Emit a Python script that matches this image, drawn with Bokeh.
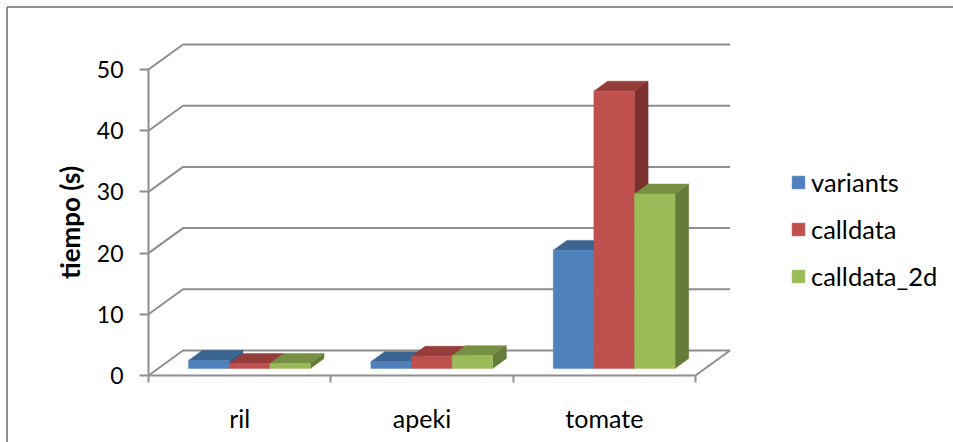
from bokeh.embed import file_html
from bokeh.models import FixedTicker, Legend, LegendItem, LinearAxis, Range1d
from bokeh.plotting import figure
from bokeh.resources import INLINE

# Values
categories = ["ril", "apeki", "tomate"]
series_names = ["variants", "calldata", "calldata_2d"]
variants = [1.3, 1.1, 19.3]
calldata = [0.8, 2.0, 45.3]
calldata_2d = [0.8, 2.1, 28.5]
y_ticks = [0, 10, 20, 30, 40, 50]

# Colours: front face, top face, side face
front_colors = ["#4F81BD", "#C0504D", "#9BBB59"]
top_colors = ["#3B6491", "#943D3B", "#779043"]
side_colors = ["#345A85", "#7B302E", "#657B3A"]
AXIS_GRAY = "#8E8E8E"
FONT = "Lato"

W, H = 953, 442
# Where the front plane sits on the page
X0_PX, X3_PX = 148.0, 695.0
Y0_PX, Y50_PX = 375.0, 69.0
PX_PER_CAT = (X3_PX - X0_PX) / 3
PX_PER_UNIT = (Y0_PX - Y50_PX) / 50

# Oblique projection: full chart depth expressed in data units
DEPTH_X = 34.5 / PX_PER_CAT
DEPTH_Y = 25.0 / PX_PER_UNIT
BAR_DEPTH_START = 0.285
BAR_DEPTH_END = 0.68
BAR_WIDTH = 40.6 / PX_PER_CAT


def proj(x, y, d):
    return x + d * DEPTH_X, y + d * DEPTH_Y


def page_x(px):
    return (px - X0_PX) / PX_PER_CAT


def page_y(px):
    return (Y0_PX - px) / PX_PER_UNIT


p = figure(
    width=W,
    height=H,
    output_backend="svg",
    toolbar_location=None,
    x_range=Range1d(page_x(0), page_x(W)),
    y_range=Range1d(page_y(H), page_y(0)),
    min_border=0,
    outline_line_color=None,
    x_axis_type=None,
    y_axis_type=None,
)
p.xgrid.visible = False
p.ygrid.visible = False

# Chart-area border: top and left edges only
p.segment(
    x0=[page_x(6.5), page_x(6.5)],
    y0=[page_y(6.5), page_y(6.5)],
    x1=[page_x(W), page_x(6.5)],
    y1=[page_y(6.5), page_y(H)],
    line_color=AXIS_GRAY,
    line_width=2,
)

# Wall gridlines: diagonal along the side wall, then across the back wall
for v in y_ticks:
    bx0, by0 = proj(0, v, 1)
    bx1, by1 = proj(3, v, 1)
    p.line([0, bx0, bx1], [v, by0, by1], line_color=AXIS_GRAY, line_width=2)

# Right edge of the floor
fx, fy = proj(3, 0, 1)
p.line([3, fx], [0, fy], line_color=AXIS_GRAY, line_width=2)

# Bars, drawn back-to-front within each cluster
all_series = [variants, calldata, calldata_2d]
legend_items = []
for s, values in enumerate(all_series):
    tops_x, tops_y, sides_x, sides_y = [], [], [], []
    lefts, rights = [], []
    for c, v in enumerate(values):
        left = c + 0.5 + (s - 1.5) * BAR_WIDTH
        right = left + BAR_WIDTH
        a = proj(left, v, BAR_DEPTH_START)
        b = proj(right, v, BAR_DEPTH_START)
        e = proj(right, v, BAR_DEPTH_END)
        f = proj(left, v, BAR_DEPTH_END)
        g = proj(right, 0, BAR_DEPTH_START)
        h = proj(right, 0, BAR_DEPTH_END)
        tops_x.append([a[0], b[0], e[0], f[0]])
        tops_y.append([a[1], b[1], e[1], f[1]])
        sides_x.append([b[0], e[0], h[0], g[0]])
        sides_y.append([b[1], e[1], h[1], g[1]])
        lefts.append(a[0])
        rights.append(b[0])
    p.patches(tops_x, tops_y, fill_color=top_colors[s], line_color=top_colors[s], line_width=0.5)
    p.patches(sides_x, sides_y, fill_color=side_colors[s], line_color=side_colors[s], line_width=0.5)
    offset = proj(0, 0, BAR_DEPTH_START)[1]
    r = p.quad(
        left=lefts,
        right=rights,
        bottom=[offset] * len(values),
        top=[v + offset for v in values],
        fill_color=front_colors[s],
        line_color=front_colors[s],
        line_width=0.5,
    )
    legend_items.append(LegendItem(label=series_names[s], renderers=[r]))

# Value axis, fixed on the front-left edge
y_axis = LinearAxis(
    fixed_location=0,
    bounds=(0, 50),
    ticker=FixedTicker(ticks=y_ticks),
    axis_line_color=AXIS_GRAY,
    axis_line_width=2,
    major_tick_line_color=AXIS_GRAY,
    major_tick_line_width=2,
    major_tick_in=0,
    major_tick_out=9,
    minor_tick_line_color=None,
    major_label_standoff=16,
    major_label_text_font=FONT,
    major_label_text_font_size="23px",
    major_label_text_color="#000000",
    axis_label="tiempo (s)",
    axis_label_standoff=8,
    axis_label_text_font=FONT,
    axis_label_text_font_size="26px",
    axis_label_text_font_style="bold",
    axis_label_text_color="#000000",
)
p.add_layout(y_axis, "left")

# Category axis: names at cluster centres, tick marks at cluster boundaries
x_axis = LinearAxis(
    fixed_location=0,
    bounds=(0, 3),
    ticker=FixedTicker(ticks=[0.5, 1.5, 2.5], minor_ticks=[0, 1, 2, 3]),
    major_label_overrides={i + 0.5: name for i, name in enumerate(categories)},
    axis_line_color=AXIS_GRAY,
    axis_line_width=2,
    major_tick_line_color=None,
    major_tick_in=0,
    major_tick_out=0,
    minor_tick_line_color=AXIS_GRAY,
    minor_tick_line_width=2,
    minor_tick_in=0,
    minor_tick_out=7,
    major_label_standoff=20,
    major_label_text_font=FONT,
    major_label_text_font_size="25px",
    major_label_text_color="#000000",
)
p.add_layout(x_axis, "below")

legend = Legend(
    items=legend_items,
    location=(790, 151),
    orientation="vertical",
    background_fill_alpha=0,
    border_line_color=None,
    glyph_width=16,
    glyph_height=16,
    label_height=20,
    label_standoff=5,
    spacing=17,
    margin=0,
    padding=0,
    label_text_font=FONT,
    label_text_font_size="25.5px",
    label_text_color="#000000",
)
p.add_layout(legend, "center")

open("out.html", "w").write(file_html(p, INLINE))
